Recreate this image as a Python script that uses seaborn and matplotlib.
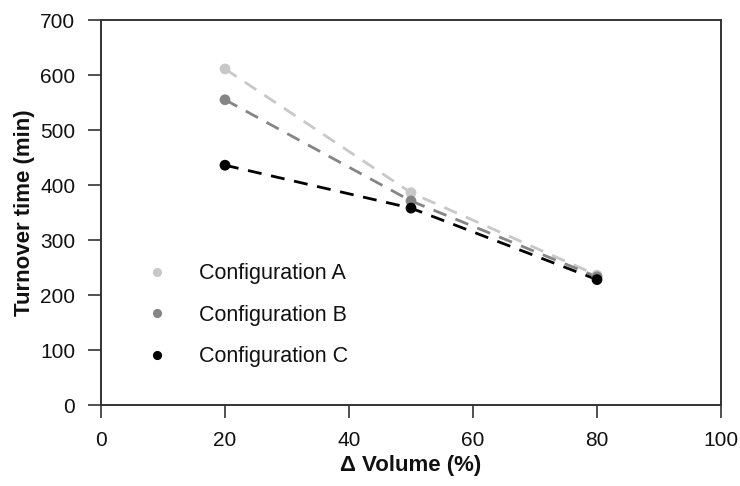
import pandas as pd
import matplotlib.pyplot as plt
import seaborn as sns

# 数据
volume = [20, 50, 80]
config_a = [611, 386, 236]
config_b = [555, 371, 233]
config_c = [436, 358, 228]
labels = ["Configuration A", "Configuration B", "Configuration C"]

df = pd.DataFrame({
    "Volume": volume * 3,
    "Turnover": config_a + config_b + config_c,
    "Config": [labels[0]] * 3 + [labels[1]] * 3 + [labels[2]] * 3,
})

palette = {labels[0]: "#c8c8c8", labels[1]: "#858585", labels[2]: "#000000"}

sns.set_style("ticks")
plt.rcParams["font.family"] = ["Liberation Sans", "DejaVu Sans"]

fig = plt.figure(figsize=(7.4, 4.86), dpi=100)
ax = fig.add_axes([101 / 740, 1 - 405 / 486, 620 / 740, 385 / 486])

sns.lineplot(data=df, x="Volume", y="Turnover", hue="Config", palette=palette,
             linewidth=2, legend=False, ax=ax)
for line in ax.get_lines():
    line.set_dashes((5, 3.5))
sns.scatterplot(data=df, x="Volume", y="Turnover", hue="Config", palette=palette,
                s=60, edgecolor="none", ax=ax, zorder=3)

ax.set_xlim(0, 100)
ax.set_ylim(0, 700)
ax.set_xticks(range(0, 101, 20))
ax.set_yticks(range(0, 701, 100))
ax.tick_params(labelsize=15, length=9.5, width=1.2, color="#333333", pad=9,
               labelcolor="#111111")
for s in ax.spines.values():
    s.set_linewidth(1.4)
    s.set_color("#333333")

ax.set_xlabel("Δ Volume (%)", fontsize=16, fontweight="bold", labelpad=4, color="#111111")
ax.set_ylabel("Turnover time (min)", fontsize=16, fontweight="bold", labelpad=4, color="#111111")

handles, lbls = ax.get_legend_handles_labels()
leg = ax.legend(handles, lbls, loc="upper left", bbox_to_anchor=(0.024, 0.418), frameon=False,
                fontsize=15.5, labelspacing=0.95, handletextpad=0.97, markerscale=0.85)
for t in leg.get_texts():
    t.set_color("#111111")

plt.savefig("out.png", dpi=100)
plt.close()
